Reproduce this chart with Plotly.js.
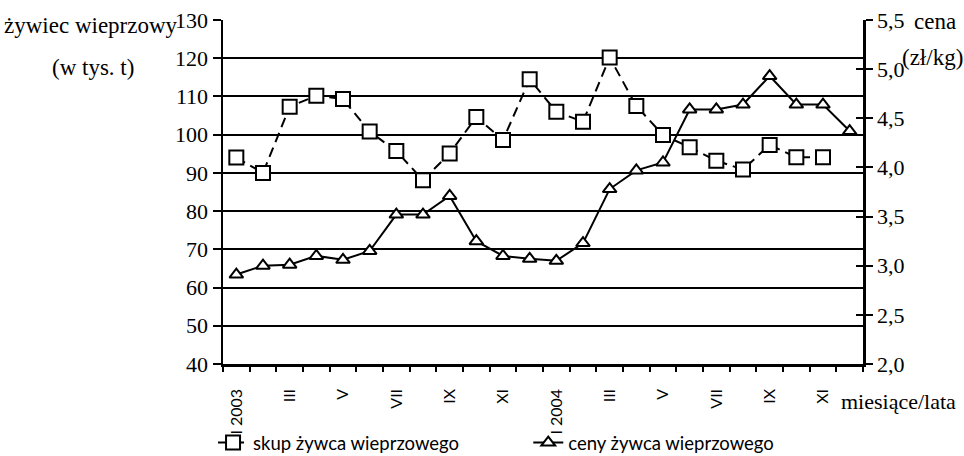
<!DOCTYPE html>
<html>
<head>
<meta charset="utf-8">
<script src="https://cdn.plot.ly/plotly-3.0.1.min.js"></script>
<style>html,body{margin:0;padding:0;background:#fff}#chart{width:964px;height:456px}</style>
</head>
<body>
<div id="chart"></div>
<script>
// miesiące 2003-2004
const months = ["I 2003", "II", "III", "IV", "V", "VI", "VII", "VIII", "IX", "X", "XI", "XII",
    "I 2004", "II", "III", "IV", "V", "VI", "VII", "VIII", "IX", "X", "XI", "XII"];
// skup żywca wieprzowego, tys. t
const skup = [94, 90, 107.3, 110.2, 109.3, 100.8, 95.7, 88.1, 95.1, 104.6, 98.6, 114.5,
    106, 103.4, 120.2, 107.5, 99.9, 96.7, 93.2, 90.9, 97.3, 94.1, 94.1, null];
// ceny żywca wieprzowego, zł/kg
const ceny = [2.91, 3.0, 3.01, 3.1, 3.06, 3.15, 3.52, 3.52, 3.71, 3.25, 3.1, 3.07,
    3.05, 3.23, 3.78, 3.97, 4.05, 4.59, 4.59, 4.64, 4.93, 4.64, 4.64, 4.37];

const x = months.map((_, i) => i);
const shown = x.filter(i => i % 2 === 0);

const serif = "Times New Roman, Liberation Serif, DejaVu Serif, serif";

const data = [
    {
        x, y: skup, name: "skup żywca wieprzowego", legend: "legend",
        mode: "lines+markers",
        line: { color: "black", width: 2, dash: "10px,6px" },
        marker: { symbol: "square", size: 14, color: "white", line: { color: "black", width: 2 } },
        connectgaps: false
    },
    {
        x, y: ceny, name: "ceny żywca wieprzowego", yaxis: "y2", legend: "legend2",
        mode: "lines+markers",
        line: { color: "black", width: 2 },
        marker: { symbol: "triangle-up", size: 12, color: "white", line: { color: "black", width: 2 } }
    },
    // pusty ślad, żeby yaxis3 (kreski do środka) był rysowany
    { x: [], y: [], yaxis: "y3", showlegend: false, hoverinfo: "skip" }
];

const note = (text, x, y, anchor, size) => ({
    text, x, y, xref: "paper", yref: "paper", xanchor: anchor, yanchor: "middle",
    showarrow: false, font: { family: serif, size: size || 23, color: "black" }
});

const legendAt = x => ({
    orientation: "h",
    xref: "container", x, xanchor: "left",
    yref: "container", y: 0.07, yanchor: "top",
    font: { family: "Lato", size: 18.5, color: "black" }, bgcolor: "rgba(0,0,0,0)"
});

const layout = {
    width: 964, height: 456,
    margin: { l: 223, r: 101, t: 20, b: 92, autoexpand: false },
    paper_bgcolor: "white", plot_bgcolor: "white",
    separators: ",.",
    font: { family: serif, size: 22, color: "black" },
    showlegend: true,
    legend: legendAt(0.221),
    legend2: legendAt(0.548),
    xaxis: {
        range: [-0.5, 23.5], showgrid: false, zeroline: false,
        showline: true, linecolor: "black", linewidth: 2.5,
        tickmode: "array", tickvals: shown, ticktext: shown.map(i => months[i]),
        ticks: "", tickangle: -90, ticklabelstandoff: 16,
        tickfont: { family: "Lato", size: 16, color: "black" },
        minor: { tickmode: "linear", tick0: -0.5, dtick: 1, ticks: "outside", ticklen: 5, tickwidth: 2, tickcolor: "black", showgrid: false }
    },
    yaxis: {
        range: [40, 130], tick0: 40, dtick: 10,
        showgrid: true, gridcolor: "black", gridwidth: 2, zeroline: false,
        showline: true, linecolor: "black", linewidth: 2.5,
        ticks: "outside", ticklen: 8, tickwidth: 2, tickcolor: "black",
        tickfont: { family: serif, size: 22, color: "black" }
    },
    yaxis2: {
        overlaying: "y", side: "right", anchor: "x",
        range: [2, 5.5], tick0: 2, dtick: 0.5, tickformat: ".1f",
        showgrid: false, zeroline: false,
        showline: true, linecolor: "black", linewidth: 2.5,
        ticks: "outside", ticklen: 7, tickwidth: 2, tickcolor: "black",
        tickfont: { family: serif, size: 22, color: "black" }
    },
    yaxis3: {
        overlaying: "y", side: "right", anchor: "x",
        range: [2, 5.5], tick0: 2, dtick: 0.5,
        showgrid: false, zeroline: false, showline: false, showticklabels: false,
        ticks: "inside", ticklen: 7, tickwidth: 2, tickcolor: "black"
    },
    annotations: [
        note("żywiec wieprzowy", -0.345, 0.985, "left"),
        note("(w tys. t)", -0.203, 0.863, "center"),
        note("cena", 1.077, 0.997, "left"),
        note("(zł/kg)", 1.058, 0.892, "left"),
        note("miesiące/lata", 0.963, -0.11, "left", 22)
    ]
};

Plotly.newPlot("chart", data, layout, { displayModeBar: false, staticPlot: true });
</script>
</body>
</html>
